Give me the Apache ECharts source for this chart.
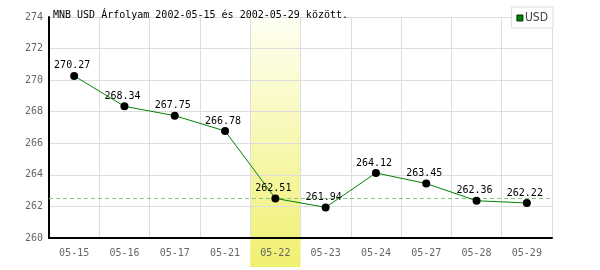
<!DOCTYPE html>
<html><head><meta charset="utf-8">
<script src="https://cdn.jsdelivr.net/npm/echarts@6/dist/echarts.min.js"></script>
<style>html,body{margin:0;padding:0;background:#fff}#c{width:600px;height:270px}</style>
</head><body><div id="c"></div>
<script>
const categories = ['05-15','05-16','05-17','05-21','05-22','05-23','05-24','05-27','05-28','05-29'];
const usdValues = [270.27,268.34,267.75,266.78,262.51,261.94,264.12,263.45,262.36,262.22];
const yTicks = [260,262,264,266,268,270,272,274];
const highlightIndex = 4;
const titleText = 'MNB USD Árfolyam 2002-05-15 és 2002-05-29 között.';
const seriesName = 'USD';

const mono = 'DejaVu Sans Mono';
const chart = echarts.init(document.getElementById('c'));
chart.setOption({
  animation: false,
  title: {text: titleText, left: 48, top: 5, textStyle: {fontFamily: mono, fontSize: 10, fontWeight: 'normal', color: '#000'}},
  legend: {data: [{name: seriesName, itemStyle: {color: '#008000', borderColor: '#003000', borderWidth: 1}}],
    right: 47, top: 7, orient: 'vertical', backgroundColor: '#fff', borderColor: '#ddd', borderWidth: 1, padding: [5,5,4,5],
    itemWidth: 6, itemHeight: 6, itemGap: 2, icon: 'rect',
    textStyle: {fontFamily: 'Liberation Sans Narrow, DejaVu Sans Condensed, sans-serif', fontSize: 12, color: '#444', padding: [0,0,0,-3]}},
  grid: {left: 49, right: 48, top: 17, bottom: 32},
  xAxis: {type: 'category', data: categories, boundaryGap: true,
    axisLine: {lineStyle: {color: '#000', width: 2}}, axisTick: {show: false},
    splitLine: {show: true, lineStyle: {color: '#ddd', width: 1}},
    axisLabel: {fontFamily: mono, fontSize: 10, color: '#666', margin: 10, interval: 0}},
  yAxis: {type: 'value', min: yTicks[0], max: yTicks[yTicks.length-1], interval: 2,
    axisLine: {show: true, lineStyle: {color: '#000', width: 2}}, axisTick: {show: false},
    splitLine: {lineStyle: {color: '#ddd', width: 1}},
    axisLabel: {fontFamily: mono, fontSize: 10, color: '#666', margin: 6}},
  series: [{
    name: seriesName, type: 'line', data: usdValues, z: 5,
    itemStyle: {color: '#000', borderColor: '#000', borderWidth: 0},
    lineStyle: {color: '#008000', width: 1},
    symbol: 'circle', symbolSize: 8, showAllSymbol: true,
    label: {show: true, position: 'top', distance: 1, offset: [-2, 0], fontFamily: mono, fontSize: 10, color: '#000', formatter: p => p.value.toFixed(2)},
    markLine: {silent: true, symbol: 'none', label: {show: false},
      lineStyle: {color: '#80c880', type: [4,3], width: 1},
      data: [{yAxis: usdValues[highlightIndex]}]}
  }]
});
const cx = chart.convertToPixel({xAxisIndex: 0}, categories[highlightIndex]);
const c0 = chart.convertToPixel({xAxisIndex: 0}, categories[highlightIndex-1]);
const half = (cx - c0) / 2;
const yTop = chart.convertToPixel({yAxisIndex: 0}, yTicks[yTicks.length-1]);
const yBot = chart.convertToPixel({yAxisIndex: 0}, yTicks[0]);
chart.setOption({graphic: [{type: 'rect', z: -10, silent: true,
  shape: {x: cx - half, y: yTop, width: half*2, height: (yBot - yTop) + 29},
  style: {fill: new echarts.graphic.LinearGradient(0,0,0,1,[{offset:0,color:'#fffff4'},{offset:1,color:'#f0f070'}])}}]});
</script></body></html>
